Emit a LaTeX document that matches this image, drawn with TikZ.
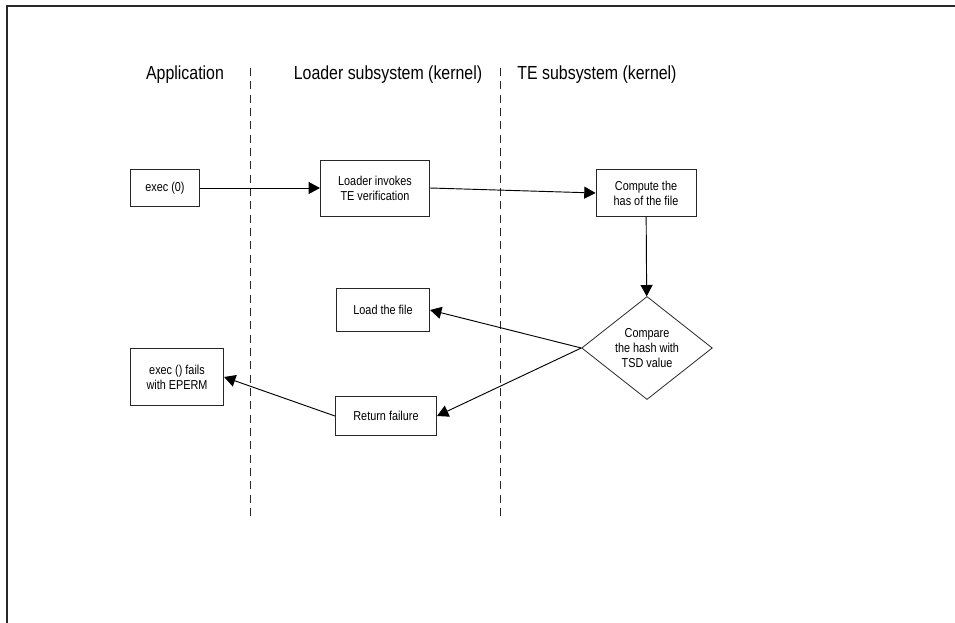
\documentclass[tikz,border=0pt]{standalone}
\usepackage{fontspec}
\setmainfont{Liberation Sans}
\newfontfamily\narrowsans[FakeStretch=0.84]{Liberation Sans}
\usetikzlibrary{positioning,arrows.meta,shapes.geometric}
\definecolor{teGray}{RGB}{40,40,40}

\tikzset{
  stepbox/.style={draw=teGray, semithick, fill=white, align=center, font=\narrowsans\fontsize{9.7}{11.2}\selectfont, inner sep=0pt},
  decision/.style={diamond, draw=teGray, semithick, align=center, font=\narrowsans\fontsize{9.7}{11.2}\selectfont, inner sep=0pt, minimum width=98pt, minimum height=74pt},
  lane/.style={font=\narrowsans\fontsize{14.2}{16}\selectfont},
  flow/.style={-{Triangle[length=8.5pt,width=9pt]}, line width=0.7pt, black},
  divider/.style={dashed, dash pattern=on 6pt off 4pt, line width=0.6pt, teGray}
}

\begin{document}
\begin{tikzpicture}[x=0.75pt,y=-0.75pt]
  \useasboundingbox (0,0) rectangle (955,623);
  % page frame
  \draw[line width=1pt, teGray] (7,623) -- (7,6) -- (955,6);

  % lane headings
  \node[lane] (appHead) at (185,75) {Application};
  \node[lane] (ldrHead) at (388,75) {Loader subsystem (kernel)};
  \node[lane] (teHead) at (597,75) {TE subsystem (kernel)};

  % lane dividers
  \draw[divider] (250,68) -- (250,520);
  \draw[divider] (500,68) -- (500,520);

  % Application lane
  \node[stepbox, minimum width=52pt, minimum height=28pt] (exec) at (165,188) {exec (0)};
  \node[stepbox, minimum width=70pt, minimum height=43pt] (fails) at (177,377) {exec () fails\\with EPERM};

  % Loader lane
  \node[stepbox, minimum width=82pt, minimum height=42pt] (invoke) at (375,188) {Loader invokes\\TE verification};
  \node[stepbox, minimum width=70pt, minimum height=32pt] (load) at (383,310) {Load the file};
  \node[stepbox, minimum width=76pt, minimum height=29pt] (retfail) at (386,416) {Return failure};

  % TE lane
  \node[stepbox, minimum width=75pt, minimum height=35pt] (hash) at (646,193) {Compute the\\has of the file};
  \node[decision] (compare) at (647,348) {Compare\\the hash with\\TSD value};

  % flow
  \draw[flow] (exec) -- (invoke);
  \draw[flow] (invoke.east) -- (hash.west);
  \draw[flow] (hash) -- (compare);
  \draw[flow] (compare.west) -- (load.east);
  \draw[flow] (compare.west) -- (retfail.east);
  \draw[flow] (retfail.west) -- (fails.east);
\end{tikzpicture}
\end{document}
